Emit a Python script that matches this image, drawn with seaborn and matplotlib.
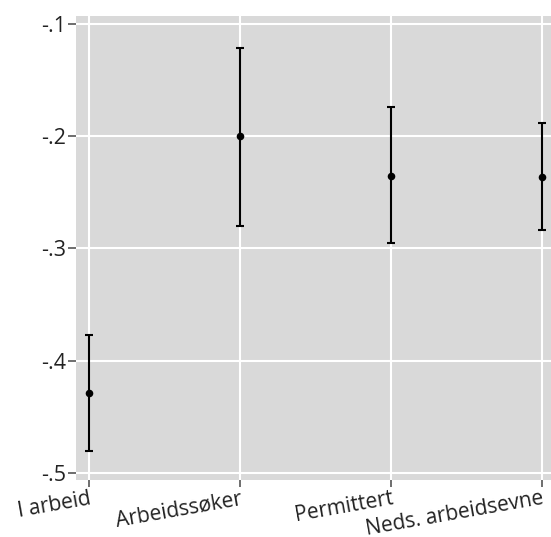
import matplotlib
matplotlib.use("Agg")
import matplotlib.pyplot as plt
import seaborn as sns
import pandas as pd

# Estimated effects by employment status with confidence intervals
categories = ["I arbeid", "Arbeidssøker", "Permittert", "Neds. arbeidsevne"]
estimates = [-0.429, -0.200, -0.235, -0.2365]
ci_low = [-0.481, -0.280, -0.295, -0.284]
ci_high = [-0.377, -0.121, -0.174, -0.188]
y_ticks = [-0.1, -0.2, -0.3, -0.4, -0.5]
y_tick_labels = ["-.1", "-.2", "-.3", "-.4", "-.5"]

df = pd.DataFrame({"status": categories, "est": estimates,
                   "lo": ci_low, "hi": ci_high})

sns.set_theme(style="darkgrid", rc={
    "axes.facecolor": "#d9d9d9",
    "grid.color": "white",
    "grid.linewidth": 1.5,
})
plt.rcParams["font.family"] = ["Open Sans", "DejaVu Sans"]

fig = plt.figure(figsize=(5.51, 5.37), dpi=100)
ax = fig.add_axes([0.138, 0.106, 0.862, 0.864])

x = list(range(len(categories)))
ax.errorbar(x, df["est"],
            yerr=[df["est"] - df["lo"], df["hi"] - df["est"]],
            fmt="none", ecolor="black", elinewidth=1.5,
            capsize=3, capthick=1.5, zorder=3)
sns.scatterplot(data=df, x="status", y="est", color="black", s=30,
                edgecolor="black", linewidth=0, zorder=4, ax=ax)

ax.set_xlim(-0.086, 3.06)
ax.set_ylim(-0.5065, -0.0929)
ax.set_yticks(y_ticks)
ax.set_yticklabels(y_tick_labels)
ax.set_xticks(x)
ax.set_xticklabels(categories, rotation=10, ha="right", va="top",
                   rotation_mode="anchor")
ax.set_xlabel("")
ax.set_ylabel("")
for s in ax.spines.values():
    s.set_visible(False)
ax.tick_params(axis="both", which="both", width=1.2,
               color="#555555", labelsize=15.5, labelcolor="#222222",
               bottom=True, left=True)
ax.tick_params(axis="y", length=6, pad=1)
ax.tick_params(axis="x", length=5, pad=1, labelsize=15)

fig.savefig("out.png", dpi=100)
